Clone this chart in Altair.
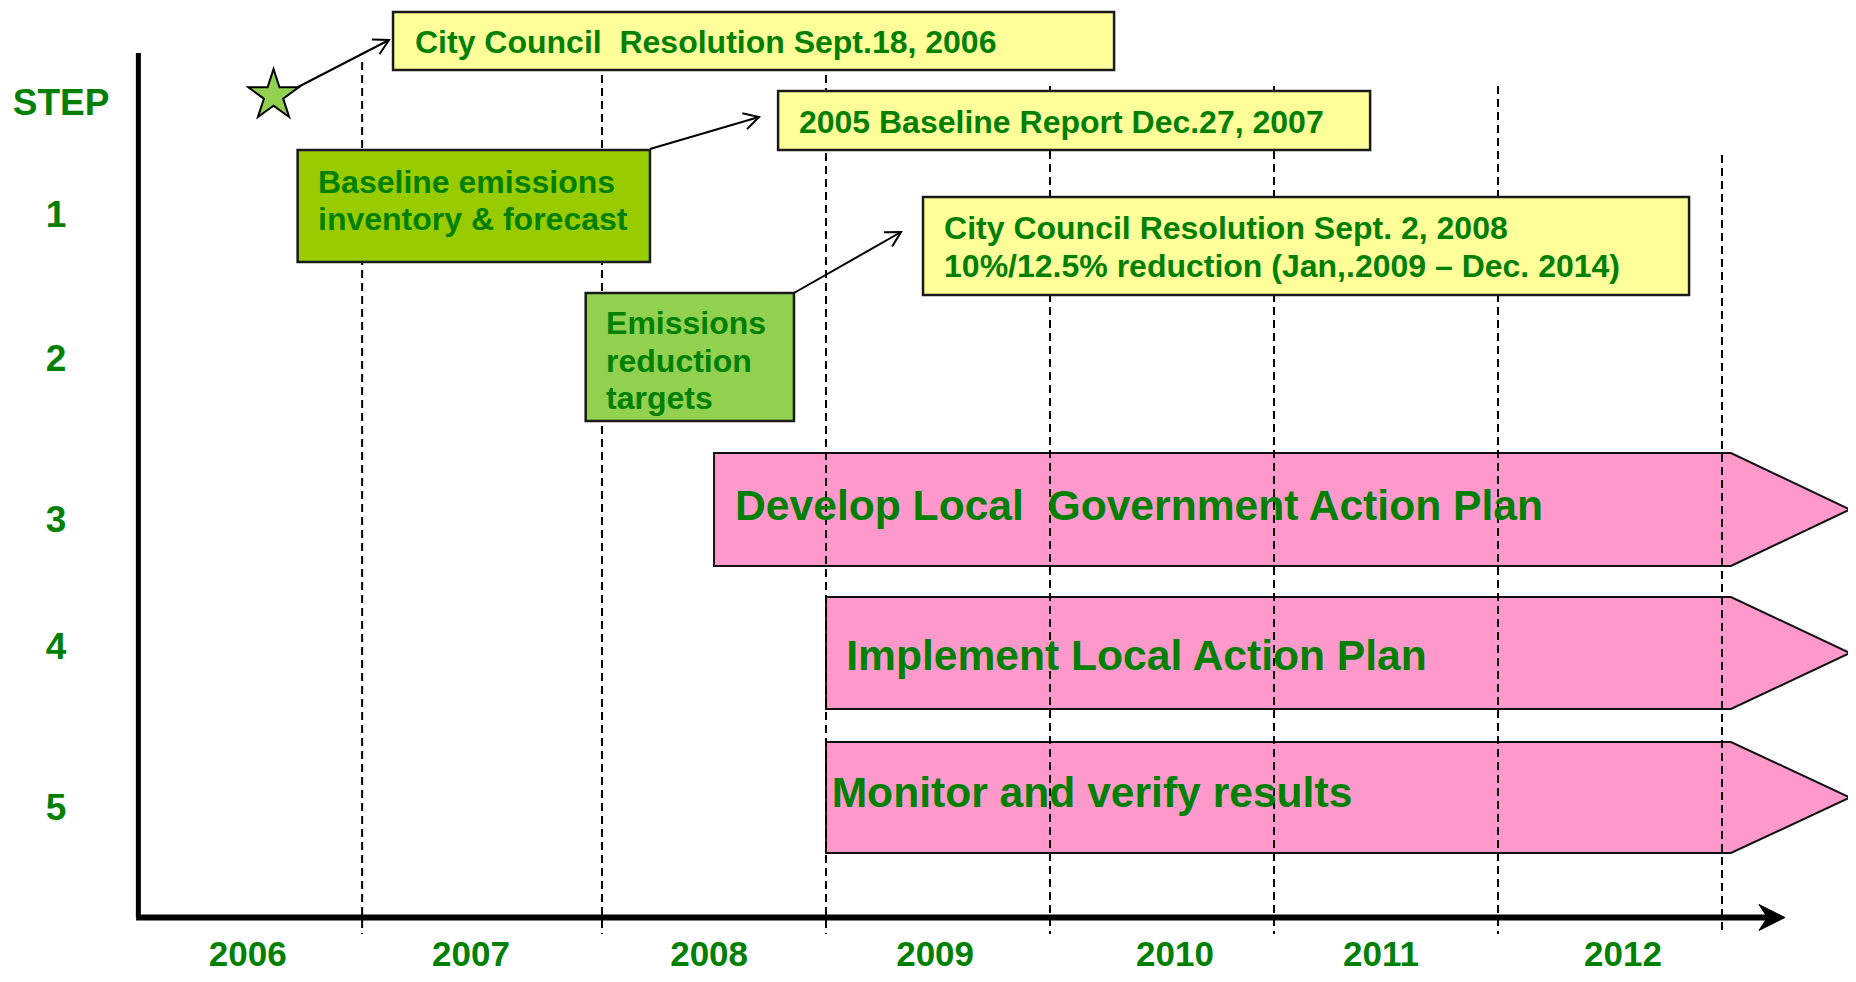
import math
import altair as alt
import pandas as pd

# ---------------- data ----------------
# x positions are in (fractional) years on the timeline, y positions are rows measured from the top
X_DOMAIN = [2005.348, 2013.5625]
Y_DOMAIN = [8, 974]
W, H = 1840, 966
PX_PER_YEAR = W / (X_DOMAIN[1] - X_DOMAIN[0])
PX_PER_ROW = H / (Y_DOMAIN[1] - Y_DOMAIN[0])

years = ["2006", "2007", "2008", "2009", "2010", "2011", "2012"]
year_x = [2006.418, 2007.415, 2008.478, 2009.487, 2010.558, 2011.478, 2012.558]
year_y = 966

step_labels = ["STEP", "1", "2", "3", "4", "5"]
step_x = [2005.585, 2005.5625, 2005.5625, 2005.5625, 2005.5625, 2005.5625]
step_y = [115, 227, 371, 532, 659, 820]

boundary_x = [2006.929, 2008.0, 2009.0, 2010.0, 2011.0, 2012.0, 2013.0]
boundary_top = [62, 62, 62, 86, 86, 86, 155]
boundary_bottom = 934

box_x1 = [2007.067, 2008.786, 2009.433, 2006.641, 2007.927]
box_x2 = [2010.286, 2011.429, 2012.853, 2008.214, 2008.857]
box_top = [12, 91, 197, 150, 293]
box_bottom = [70, 150, 295, 262, 421]
box_fill = ["#FFFF99", "#FFFF99", "#FFFF99", "#99CC00", "#92D050"]

box_text = [
    "City Council\u00a0 Resolution Sept.18, 2006",
    "2005 Baseline Report Dec.27, 2007",
    "City Council Resolution Sept. 2, 2008",
    "10%/12.5% reduction (Jan,.2009 \u2013 Dec. 2014)",
    "Baseline emissions",
    "inventory & forecast",
    "Emissions",
    "reduction",
    "targets",
]
box_text_x = [2007.165, 2008.879, 2009.527, 2009.527, 2006.732, 2006.732, 2008.018, 2008.018, 2008.018]
box_text_y = [53, 133, 239, 277, 193, 230, 334, 372, 409]

plan_steps = [
    "Develop Local\u00a0 Government Action Plan",
    "Implement Local Action Plan",
    "Monitor and verify results",
]
plan_start = [2008.5, 2009.0, 2009.0]
plan_body_end = 2013.04
plan_tip = 2013.571
plan_top = [453, 597, 742]
plan_bottom = [566, 709, 853]
plan_text_x = [2008.594, 2009.09, 2009.025]
plan_text_y = [520, 670, 807]

conn_x1 = [2006.643, 2008.214, 2008.857]
conn_y1 = [87, 149, 293]
conn_x2 = [2007.049, 2008.701, 2009.335]
conn_y2 = [40, 117, 232]

star_x, star_y = 2006.5335, 95.5

axis_x0 = 2005.93
axis_top = 53
axis_y = 917.5
axis_x_end = 2013.22
axis_head_x = 2013.223

# ---------------- styles ----------------
GREEN = "#008000"
FONT = "Liberation Sans"
xs = alt.Scale(domain=X_DOMAIN, nice=False, zero=False)
ys = alt.Scale(domain=Y_DOMAIN, nice=False, zero=False, reverse=True)


def X(f):
    return alt.X(f, type="quantitative", scale=xs, axis=None)


def Y(f):
    return alt.Y(f, type="quantitative", scale=ys, axis=None, stack=None)


# pink process arrows (pentagon shapes)
rows = []
for i, name in enumerate(plan_steps):
    mid = (plan_top[i] + plan_bottom[i]) / 2
    rows.append(dict(id=i, x=plan_start[i], t=plan_top[i], b=plan_bottom[i]))
    rows.append(dict(id=i, x=plan_body_end, t=plan_top[i], b=plan_bottom[i]))
    rows.append(dict(id=i, x=plan_tip, t=mid, b=mid))
plan_df = pd.DataFrame(rows)
plans = alt.Chart(plan_df).mark_area(
    orient="vertical", fill="#FF99CC", stroke="#111111", strokeWidth=2, opacity=1, fillOpacity=1
).encode(x=X("x"), y=Y("t"), y2="b:Q", detail="id:N")

# dashed year boundaries
bdf = pd.DataFrame(dict(x=boundary_x, t=boundary_top, b=[boundary_bottom] * len(boundary_x)))
bounds = alt.Chart(bdf).mark_rule(color="black", strokeWidth=2, strokeDash=[8, 5]).encode(
    x=X("x"), y=Y("t"), y2="b:Q"
)

# boxes
boxdf = pd.DataFrame(dict(x1=box_x1, x2=box_x2, t=box_top, b=box_bottom, fill=box_fill))
boxes = alt.Chart(boxdf).mark_rect(stroke="#1a1a1a", strokeWidth=2.5).encode(
    x=X("x1"), x2="x2:Q", y=Y("t"), y2="b:Q", fill=alt.Fill("fill:N", scale=None)
)

# axes
vdf = pd.DataFrame(dict(x=[axis_x0], t=[axis_top], b=[axis_y]))
vaxis = alt.Chart(vdf).mark_rule(color="black", strokeWidth=5).encode(x=X("x"), y=Y("t"), y2="b:Q")
hdf = pd.DataFrame(dict(x1=[axis_x0 - 0.01], x2=[axis_x_end], y=[axis_y]))
haxis = alt.Chart(hdf).mark_rule(color="black", strokeWidth=6).encode(x=X("x1"), x2="x2:Q", y=Y("y"))
headdf = pd.DataFrame(dict(x=[axis_head_x], y=[axis_y]))
head = alt.Chart(headdf).mark_point(
    shape="M1,0L-1,-1L-0.35,0L-1,1Z", size=676, filled=True, fill="black", stroke="black",
    strokeWidth=1, opacity=1
).encode(x=X("x"), y=Y("y"))

# connectors with open arrowheads
angles = []
for i in range(len(conn_x1)):
    dx = (conn_x2[i] - conn_x1[i]) * PX_PER_YEAR
    dy = (conn_y2[i] - conn_y1[i]) * PX_PER_ROW
    angles.append(math.degrees(math.atan2(dy, dx)) % 360)
cdf = pd.DataFrame(dict(x1=conn_x1, y1=conn_y1, x2=conn_x2, y2=conn_y2, ang=angles))
conns = alt.Chart(cdf).mark_rule(color="black", strokeWidth=2).encode(
    x=X("x1"), y=Y("y1"), x2="x2:Q", y2="y2:Q"
)
heads = alt.Chart(cdf).mark_point(
    shape="M-1,-0.55L0,0L-1,0.55", size=900, filled=False, stroke="black", strokeWidth=2, opacity=1
).encode(x=X("x2"), y=Y("y2"), angle=alt.Angle("ang:Q", scale=None))

# star
sdf = pd.DataFrame(dict(x=[star_x], y=[star_y]))
star = alt.Chart(sdf).mark_point(
    shape="M0,-1L0.2245,-0.309L0.951,-0.309L0.3633,0.118L0.588,0.809L0,0.382L-0.588,0.809"
          "L-0.3633,0.118L-0.951,-0.309L-0.2245,-0.309Z",
    size=2809, filled=True, fill="#92D050", stroke="black", strokeWidth=2, opacity=1
).encode(x=X("x"), y=Y("y"))

# texts
ltext = pd.DataFrame(dict(
    text=box_text + plan_steps,
    x=box_text_x + plan_text_x,
    y=box_text_y + plan_text_y,
    size=[32] * len(box_text) + [42.6] * len(plan_steps),
))
left_texts = alt.Chart(ltext).mark_text(
    align="left", baseline="alphabetic", font=FONT, fontWeight="bold", color=GREEN
).encode(x=X("x"), y=Y("y"), text="text:N", size=alt.Size("size:Q", scale=None))

ctext = pd.DataFrame(dict(
    text=step_labels + years,
    x=step_x + year_x,
    y=step_y + [year_y] * len(years),
    size=[37] * len(step_labels) + [35] * len(years),
))
center_texts = alt.Chart(ctext).mark_text(
    align="center", baseline="alphabetic", font=FONT, fontWeight="bold", color=GREEN
).encode(x=X("x"), y=Y("y"), text="text:N", size=alt.Size("size:Q", scale=None))

chart = alt.layer(
    plans, bounds, boxes, vaxis, haxis, head, conns, heads, star, left_texts, center_texts
).properties(
    width=W, height=H, padding=0, autosize=alt.AutoSizeParams(type="none"), background="white"
).configure_view(stroke=None)

chart.save("out.html", embed_options={"renderer": "svg", "actions": False})
